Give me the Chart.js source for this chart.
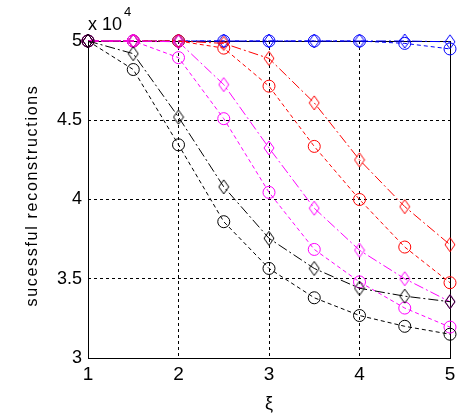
<!DOCTYPE html>
<html>
<head>
<meta charset="utf-8">
<script src="https://cdn.jsdelivr.net/npm/chart.js@4.4.1/dist/chart.umd.min.js"></script>
<style>
  html, body { margin: 0; padding: 0; background: #ffffff; }
  #wrap { width: 461px; height: 418px; }
</style>
</head>
<body>
<div id="wrap"><canvas id="c" width="461" height="418"></canvas></div>
<script>
// xi values on the horizontal axis
const xiValues = [1, 1.5, 2, 2.5, 3, 3.5, 4, 4.5, 5];

// successful reconstructions per curve
const blueDiamond    = [50000, 50000, 50000, 50000, 50000, 50000, 50000, 50000, 49950];
const blueCircle     = [50000, 50000, 50000, 50000, 50000, 50000, 50000, 49850, 49500];
const redDiamond     = [50000, 50000, 50000, 49850, 48900, 46100, 42500, 39550, 37150];
const redCircle      = [50000, 50000, 50000, 49550, 47150, 43350, 40000, 37000, 34750];
const magentaDiamond = [50000, 50000, 49950, 47250, 43250, 39450, 36800, 35000, 33550];
const magentaCircle  = [50000, 50000, 48950, 45100, 40450, 36850, 34800, 33150, 31950];
const blackDiamond   = [50000, 49200, 45200, 40800, 37550, 35650, 34400, 33900, 33550];
const blackCircle    = [50000, 48200, 43450, 38600, 35650, 33800, 32680, 32000, 31500];

// axis ticks
const xTickValues = [1, 2, 3, 4, 5];
const xTickLabels = ['1', '2', '3', '4', '5'];
const yTickValues = [30000, 35000, 40000, 45000, 50000];
const yTickLabels = ['3', '3.5', '4', '4.5', '5'];

const yTitle = 'sucessful reconstructions';
const xTitle = '\u03BE';

const tickFamily = "'Liberation Sans Narrow', 'Arial Narrow', 'Liberation Sans', Arial, sans-serif";
const textFamily = "'Liberation Sans', Arial, sans-serif";

// tall diamond marker drawn onto a small canvas
function diamondMarker(color) {
  const w = 12, h = 16;
  const cv = document.createElement('canvas');
  cv.width = w; cv.height = h;
  const g = cv.getContext('2d');
  g.strokeStyle = color;
  g.lineWidth = 1;
  g.beginPath();
  g.moveTo(w / 2, 1);
  g.lineTo(w - 1, h / 2);
  g.lineTo(w / 2, h - 1);
  g.lineTo(1, h / 2);
  g.closePath();
  g.stroke();
  return cv;
}

function pts(values) {
  return values.map((v, i) => ({ x: xiValues[i], y: v }));
}

const dashDot = [10, 3, 2, 3];
const dashed = [4, 3];

function series(values, color, marker, order) {
  const isDiamond = marker === 'diamond';
  return {
    data: pts(values),
    borderColor: color,
    backgroundColor: 'rgba(0,0,0,0)',
    borderWidth: 1,
    borderDash: isDiamond ? dashDot : dashed,
    pointStyle: isDiamond ? diamondMarker(color) : 'circle',
    pointRadius: 6,
    pointHoverRadius: 6,
    pointBorderColor: color,
    pointBackgroundColor: 'rgba(0,0,0,0)',
    pointBorderWidth: 1,
    tension: 0,
    clip: false,
    order: order
  };
}

const datasets = [
  series(blueDiamond, '#0000ff', 'diamond', 7),
  series(blueCircle, '#0000ff', 'circle', 6),
  series(redDiamond, '#ff0000', 'diamond', 5),
  series(redCircle, '#ff0000', 'circle', 4),
  series(magentaDiamond, '#ff00ff', 'diamond', 3),
  series(magentaCircle, '#ff00ff', 'circle', 2),
  series(blackDiamond, '#000000', 'diamond', 1),
  series(blackCircle, '#000000', 'circle', 0)
];

// solid frame around the plotting area, drawn over the dashed grid
const framePlugin = {
  id: 'frame',
  beforeDatasetsDraw(chart) {
    const { ctx, chartArea: a } = chart;
    ctx.save();
    ctx.strokeStyle = '#000000';
    ctx.lineWidth = 1;
    ctx.setLineDash([]);
    const l = Math.round(a.left) + 0.5, t = Math.round(a.top) + 0.5;
    const r = Math.round(a.right) + 0.5, b = Math.round(a.bottom) + 0.5;
    ctx.strokeRect(l, t, r - l, b - t);
    ctx.restore();
  }
};

// axis titles and the exponent note above the y axis
const labelsPlugin = {
  id: 'labels',
  afterDraw(chart) {
    const { ctx, chartArea: a } = chart;
    ctx.save();
    ctx.fillStyle = '#000000';

    // y title
    ctx.save();
    ctx.translate(33, (a.top + a.bottom) / 2 - 4);
    ctx.rotate(-Math.PI / 2);
    ctx.font = '16px ' + textFamily;
    if ('letterSpacing' in ctx) ctx.letterSpacing = '1.7px';
    ctx.textAlign = 'center';
    ctx.textBaseline = 'middle';
    ctx.fillText(yTitle, 0, 0);
    ctx.restore();

    // x title
    ctx.font = '18px ' + textFamily;
    ctx.textAlign = 'center';
    ctx.textBaseline = 'middle';
    ctx.fillText(xTitle, (a.left + a.right) / 2, 404);

    // x 10^4
    ctx.font = '18px ' + tickFamily;
    ctx.textAlign = 'left';
    ctx.textBaseline = 'alphabetic';
    ctx.fillText('x 10', a.left, 30);
    const w = ctx.measureText('x 10').width;
    ctx.font = '13px ' + tickFamily;
    ctx.fillText('4', a.left + w + 2, 16);
    ctx.restore();
  }
};

new Chart(document.getElementById('c'), {
  type: 'line',
  data: { datasets },
  options: {
    responsive: false,
    animation: false,
    events: [],
    layout: { padding: { top: 41, right: 11, left: 0, bottom: 0 } },
    plugins: { legend: { display: false }, tooltip: { enabled: false } },
    scales: {
      x: {
        type: 'linear',
        min: 1, max: 5,
        afterFit(scale) { scale.height = 60; },
        afterBuildTicks(scale) { scale.ticks = xTickValues.map(v => ({ value: v })); },
        ticks: {
          padding: 5,
          color: '#000000',
          font: { family: tickFamily, size: 19 },
          maxRotation: 0,
          callback(value) {
            const i = xTickValues.indexOf(value);
            return i >= 0 ? xTickLabels[i] : '';
          }
        },
        grid: { color: '#000000', lineWidth: 1, drawTicks: false, tickLength: 0 },
        border: { display: false, dash: [3, 3] }
      },
      y: {
        type: 'linear',
        min: 30000, max: 50000,
        afterFit(scale) { scale.width = 88; },
        afterBuildTicks(scale) { scale.ticks = yTickValues.map(v => ({ value: v })); },
        ticks: {
          padding: 6,
          color: '#000000',
          font: { family: tickFamily, size: 18 },
          callback(value) {
            const i = yTickValues.indexOf(value);
            return i >= 0 ? yTickLabels[i] : '';
          }
        },
        grid: { color: '#000000', lineWidth: 1, drawTicks: false, tickLength: 0 },
        border: { display: false, dash: [3, 3] }
      }
    }
  },
  plugins: [framePlugin, labelsPlugin]
});
</script>
</body>
</html>
